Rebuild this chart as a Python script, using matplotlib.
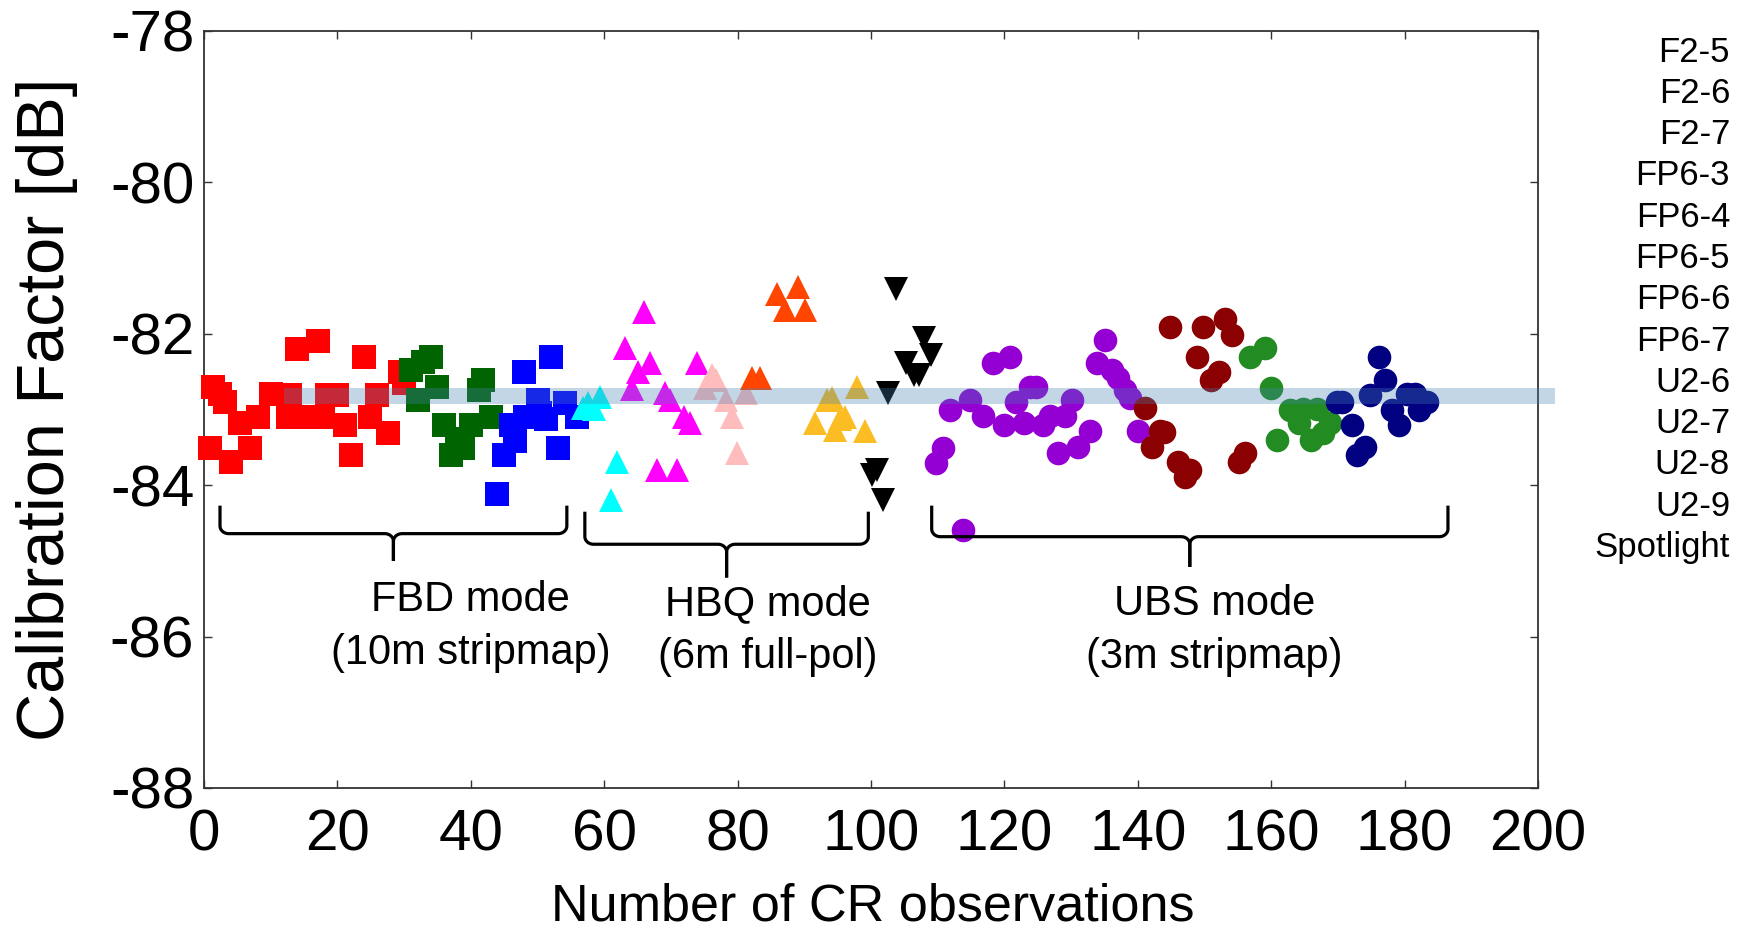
import numpy as np
import matplotlib
matplotlib.use("Agg")
import matplotlib.pyplot as plt

plt.rcParams["font.family"] = ["Liberation Sans", "DejaVu Sans"]
plt.rcParams["axes.unicode_minus"] = False

# calibration factor per corner-reflector observation, grouped by beam
f25_x = [1.4, 3.2, 0.9, 4.1, 6.9, 5.4, 8.1, 10.1, 12.6, 13.9, 17.1, 12.9, 15.9,
         18.4, 19.9, 17.9, 21.1, 22.1, 24.0, 25.9, 24.9, 27.6, 29.4, 30.0, 2.4]
f25_y = [-82.70, -82.90, -83.51, -83.70, -83.51, -83.18, -83.10, -82.79, -83.10,
         -82.20, -82.09, -82.81, -83.10, -82.81, -82.81, -83.10, -83.20, -83.60,
         -82.30, -82.81, -83.10, -83.31, -82.51, -82.65, -82.80]
f26_x = [31.0, 32.9, 34.1, 35.0, 32.1, 36.0, 37.0, 38.9, 40.0, 41.9, 41.2, 43.0, 38.0]
f26_y = [-82.48, -82.37, -82.30, -82.70, -82.88, -83.20, -83.60, -83.51, -83.20,
         -82.61, -82.74, -83.10, -83.39]
f27_x = [48.0, 52.0, 50.1, 46.1, 48.1, 50.4, 45.0, 46.6, 43.9, 53.0, 54.1, 55.9, 51.3]
f27_y = [-82.50, -82.30, -82.88, -83.20, -83.10, -83.05, -83.60, -83.41, -84.11,
         -83.51, -82.92, -83.10, -83.13]

fp63_x = [56.8, 57.6, 58.5, 59.3, 61.9, 61.0]
fp63_y = [-82.98, -82.92, -83.00, -82.84, -83.70, -84.20]
fp64_x = [66.0, 63.1, 65.0, 66.9, 64.1, 69.1, 69.9, 71.9, 72.9, 73.9, 67.9, 70.9]
fp64_y = [-81.71, -82.19, -82.50, -82.39, -82.73, -82.78, -82.87, -83.10, -83.18,
          -82.39, -83.80, -83.80]
fp65_x = [76.1, 76.8, 75.1, 78.2, 79.2, 81.3, 79.9]
fp65_y = [-82.54, -82.61, -82.71, -82.88, -83.10, -82.78, -83.58]
fp66_x = [85.9, 89.0, 87.1, 90.1, 82.1, 83.4]
fp66_y = [-81.47, -81.38, -81.68, -81.68, -82.59, -82.59]
fp67_x = [93.4, 94.1, 91.6, 96.1, 94.6, 99.1, 97.9, 95.3]
fp67_y = [-82.87, -82.85, -83.18, -83.10, -83.27, -83.29, -82.70, -83.12]

u26_x = [109.8, 110.8, 111.8, 114.8, 116.8, 118.3, 120.9, 119.9, 121.8, 122.9,
         123.8, 124.8, 125.8, 126.8, 129.1, 130.1, 128.1, 131.1, 132.8, 135.1,
         133.9, 136.1, 137.1, 138.1, 138.8, 140.1, 113.8]
u26_y = [-83.71, -83.51, -83.01, -82.88, -83.09, -82.39, -82.30, -83.20, -82.90,
         -83.18, -82.70, -82.70, -83.20, -83.09, -83.09, -82.88, -83.58, -83.49,
         -83.29, -82.08, -82.39, -82.48, -82.59, -82.74, -82.85, -83.29, -84.59]
u27_x = [141.1, 143.3, 142.1, 144.8, 149.8, 153.1, 154.1, 148.9, 152.1, 150.9,
         146.1, 147.8, 147.1, 155.1, 156.1, 144.0]
u27_y = [-82.98, -83.29, -83.49, -81.91, -81.91, -81.80, -82.02, -82.30, -82.50,
         -82.61, -83.69, -83.80, -83.89, -83.69, -83.58, -83.30]
u28_x = [156.8, 159.1, 160.0, 160.9, 162.8, 164.8, 166.8, 164.1, 165.9, 167.8, 168.8]
u28_y = [-82.30, -82.19, -82.71, -83.40, -83.01, -82.99, -82.99, -83.18, -83.40,
         -83.31, -83.18]
u29_x = [170.6, 169.8, 172.1, 172.8, 174.0, 174.8, 176.1, 177.1, 178.1, 179.1,
         180.3, 181.6, 182.1, 183.3]
u29_y = [-82.90, -82.90, -83.20, -83.60, -83.49, -82.81, -82.30, -82.61, -83.01,
         -83.20, -82.79, -82.79, -83.01, -82.90]

spot_x = [103.8, 108.0, 109.0, 105.2, 106.4, 107.2, 102.6, 100.9, 100.1, 101.8]
spot_y = [-81.41, -82.06, -82.28, -82.39, -82.54, -82.54, -82.78, -83.80, -83.87, -84.20]

mean_cf = -82.82

beam_names = ["F2-5", "F2-6", "F2-7", "FP6-3", "FP6-4", "FP6-5", "FP6-6", "FP6-7",
              "U2-6", "U2-7", "U2-8", "U2-9", "Spotlight"]

series = [
    (f25_x, f25_y, "s", "#ff0000"),
    (f26_x, f26_y, "s", "#006400"),
    (f27_x, f27_y, "s", "#0000ff"),
    (fp63_x, fp63_y, "^", "#00ffff"),
    (fp64_x, fp64_y, "^", "#ff00ff"),
    (fp65_x, fp65_y, "^", "#ffbcbc"),
    (fp66_x, fp66_y, "^", "#ff4500"),
    (fp67_x, fp67_y, "^", "#fbbd23"),
    (u26_x, u26_y, "o", "#9400d3"),
    (u27_x, u27_y, "o", "#8b0000"),
    (u28_x, u28_y, "o", "#228b22"),
    (u29_x, u29_y, "o", "#000080"),
    (spot_x, spot_y, "v", "#000000"),
]

# mode groupings: (x start, x end, top of ends, bar level, tip, label lines, label x, label y)
modes = [
    (2.4, 54.4, -84.27, -84.64, -85.00, ["FBD mode", "(10m stripmap)"], 40.0, -85.52),
    (57.1, 99.6, -84.35, -84.78, -85.22, ["HBQ mode", "(6m full-pol)"], 84.5, -85.57),
    (109.1, 186.5, -84.27, -84.68, -85.08, ["UBS mode", "(3m stripmap)"], 151.5, -85.57),
]


def draw_brace(ax, x0, x1, ytop, ybar, ytip, rx=1.3, ry=0.10):
    xm = 0.5 * (x0 + x1)
    t = np.linspace(0, np.pi / 2, 12)
    # left half: end stroke, rounded corner, bar, rounded cusp
    xs = [x0, x0]
    ys = [ytop, ybar + ry]
    xs += list(x0 + rx - rx * np.cos(t))
    ys += list(ybar + ry - ry * np.sin(t))
    xs += list(xm - rx + rx * np.sin(t))
    ys += list(ybar - ry + ry * np.cos(t))
    xs += [xm]
    ys += [ytip]
    xs = np.array(xs)
    ys = np.array(ys)
    kw = dict(color="black", lw=2.3, clip_on=False, solid_capstyle="butt", zorder=5)
    ax.plot(xs, ys, **kw)
    ax.plot(2 * xm - xs, ys, **kw)


fig = plt.figure(figsize=(17.44, 9.35), dpi=100)
ax = fig.add_axes([0.11697, 0.15722, 0.76491, 0.80963])

for (xs, ys, mk, col), name in zip(series, beam_names):
    ax.plot(xs, ys, linestyle="none", marker=mk, markersize=17, color=col,
            markeredgewidth=0, label=name, clip_on=False, zorder=3)

# mean calibration factor band
ax.plot([12.0, 202.5], [mean_cf, mean_cf], color="#4682b4", alpha=0.32, lw=11.5,
        solid_capstyle="butt", clip_on=False, zorder=4)

for x0, x1, ytop, ybar, ytip, lines, tx, ty in modes:
    draw_brace(ax, x0, x1, ytop, ybar, ytip)
    ax.text(tx, ty, lines[0], ha="center", va="center", fontsize=30)
    ax.text(tx, ty - 0.70, lines[1], ha="center", va="center", fontsize=30)

ax.set_xlim(0, 200)
ax.set_ylim(-88, -78)
ax.set_xticks(np.arange(0, 201, 20))
ax.set_yticks(np.arange(-88, -77, 2))
ax.tick_params(axis="both", direction="in", length=6, width=1.0, labelsize=42,
               top=True, right=True, color="#333333")
ax.tick_params(axis="x", pad=15)
ax.tick_params(axis="y", pad=7)
for sp in ax.spines.values():
    sp.set_linewidth(1.3)
    sp.set_color("#333333")

fig.text(873 / 1744, 1 - 907 / 935, "Number of CR observations", ha="center",
         va="center", fontsize=37.5)
fig.text(47 / 1744, 1 - 409 / 935, "Calibration Factor [dB]", ha="center",
         va="center", rotation=90, fontsize=48)

# beam list on the right
for i, name in enumerate(beam_names):
    fig.text(1730 / 1744, 1 - (52 + 41.3 * i) / 935, name, ha="right", va="center",
             fontsize=25)

fig.savefig("out.png", dpi=100)
